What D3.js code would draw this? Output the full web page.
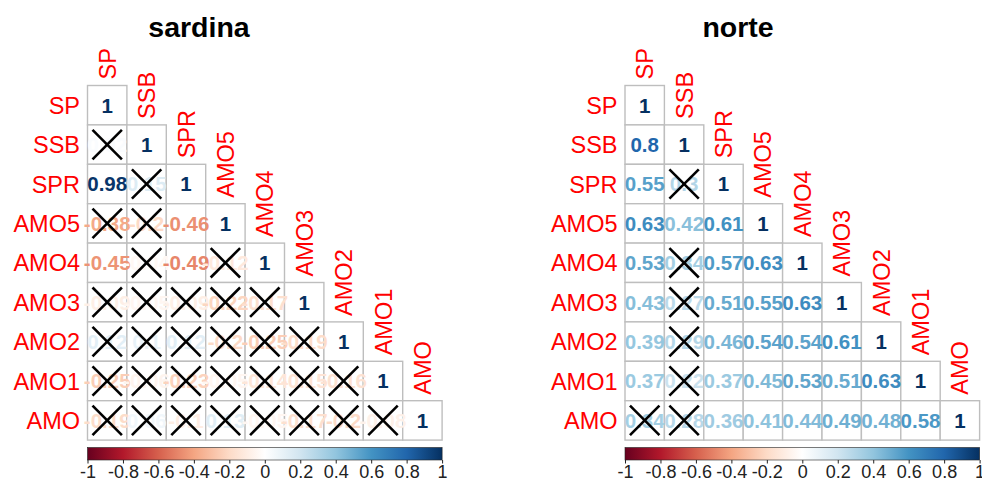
<!DOCTYPE html>
<html>
<head>
<meta charset="utf-8">
<script src="https://cdn.jsdelivr.net/npm/d3@7"></script>
<style>
  body { margin: 0; background: #fff; }
  text { font-family: "Liberation Sans", Arial, sans-serif; }
</style>
</head>
<body>
<div id="container"></div>
<script>
// Variables (rows / columns)
const vars = ['SP', 'SSB', 'SPR', 'AMO5', 'AMO4', 'AMO3', 'AMO2', 'AMO1', 'AMO'];

// Lower triangle correlations, row by row (diagonal included)
const sardinaVals = [
  [1],
  [0.02, 1],
  [0.98, 0.15, 1],
  [-0.38, -0.2, -0.46, 1],
  [-0.45, -0.04, -0.49, -0.12, 1],
  [-0.09, -0.05, -0.09, -0.22, -0.17, 1],
  [0.12, 0.1, 0.12, -0.2, -0.25, -0.19, 1],
  [-0.25, -0.06, -0.23, -0.05, -0.14, -0.15, -0.16, 1],
  [-0.19, 0.06, -0.1, 0.13, -0.05, -0.17, -0.2, -0.08, 1]
];
// 1 = not significant (crossed)
const sardinaX = [
  [0],
  [1, 0],
  [0, 1, 0],
  [1, 1, 0, 0],
  [0, 1, 0, 1, 0],
  [1, 1, 1, 1, 1, 0],
  [1, 1, 1, 1, 1, 1, 0],
  [1, 1, 1, 1, 1, 1, 1, 0],
  [1, 1, 1, 1, 1, 1, 1, 1, 0]
];

const norteVals = [
  [1],
  [0.8, 1],
  [0.55, 0.3, 1],
  [0.63, 0.42, 0.61, 1],
  [0.53, 0.34, 0.57, 0.63, 1],
  [0.43, 0.27, 0.51, 0.55, 0.63, 1],
  [0.39, 0.29, 0.46, 0.54, 0.54, 0.61, 1],
  [0.37, 0.22, 0.37, 0.45, 0.53, 0.51, 0.63, 1],
  [0.34, 0.28, 0.36, 0.41, 0.44, 0.49, 0.48, 0.58, 1]
];
const norteX = [
  [0],
  [0, 0],
  [0, 1, 0],
  [0, 0, 0, 0],
  [0, 1, 0, 0, 0],
  [0, 1, 0, 0, 0, 0],
  [0, 1, 0, 0, 0, 0, 0],
  [0, 1, 0, 0, 0, 0, 0, 0],
  [1, 1, 0, 0, 0, 0, 0, 0, 0]
];

const legendTicks = [-1, -0.8, -0.6, -0.4, -0.2, 0, 0.2, 0.4, 0.6, 0.8, 1];
const rdbu = ['#67001F', '#B2182B', '#D6604D', '#F4A582', '#FDDBC7', '#FFFFFF',
  '#D1E5F0', '#92C5DE', '#4393C3', '#2166AC', '#053061'];

const color = d3.scaleLinear().domain(legendTicks).range(rdbu);

const svg = d3.select('#container').append('svg')
  .attr('width', 982)
  .attr('height', 486);

const defs = svg.append('defs');
const grad = defs.append('linearGradient').attr('id', 'rdbu');
rdbu.forEach((c, i) => {
  grad.append('stop').attr('offset', (i / (rdbu.length - 1) * 100) + '%').attr('stop-color', c);
});

function fmt(v) {
  if (v === 1) return '1';
  return d3.format('.2~f')(v).replace('\u2212', '-');
}

function panel(title, vals, crosses, left, titleX) {
  const top = 85.5;
  const size = 39.4 * vars.length;
  const x = d3.scaleBand().domain(vars).range([left, left + size]);
  const y = d3.scaleBand().domain(vars).range([top, top + size]);
  const bw = x.bandwidth();
  const g = svg.append('g');

  g.append('text')
    .attr('x', titleX).attr('y', 37)
    .attr('text-anchor', 'middle')
    .style('font-size', '28.5px').style('font-weight', 'bold')
    .text(title);

  const cells = [];
  vals.forEach((row, i) => row.forEach((v, j) => {
    cells.push({ r: vars[i], c: vars[j], v: v, x: crosses[i][j] });
  }));

  g.selectAll('rect.cell').data(cells).enter().append('rect')
    .attr('class', 'cell')
    .attr('x', d => x(d.c)).attr('y', d => y(d.r))
    .attr('width', bw).attr('height', bw)
    .attr('fill', 'white').attr('stroke', '#BEBEBE').attr('stroke-width', 1.4);

  g.selectAll('text.num').data(cells).enter().append('text')
    .attr('class', 'num')
    .attr('x', d => x(d.c) + bw / 2).attr('y', d => y(d.r) + bw / 2 + 7.3)
    .attr('text-anchor', 'middle')
    .style('font-size', '20.5px').style('font-weight', 'bold')
    .attr('fill', d => color(d.v))
    .text(d => fmt(d.v));

  const m = 5;
  const xs = g.selectAll('g.cross').data(cells.filter(d => d.x)).enter().append('g')
    .attr('class', 'cross');
  xs.append('line')
    .attr('x1', d => x(d.c) + m).attr('y1', d => y(d.r) + m)
    .attr('x2', d => x(d.c) + bw - m).attr('y2', d => y(d.r) + bw - m);
  xs.append('line')
    .attr('x1', d => x(d.c) + m).attr('y1', d => y(d.r) + bw - m)
    .attr('x2', d => x(d.c) + bw - m).attr('y2', d => y(d.r) + m);
  xs.selectAll('line').attr('stroke', 'black').attr('stroke-width', 2.6);

  // Row labels
  g.selectAll('text.rl').data(vars).enter().append('text')
    .attr('class', 'rl')
    .attr('x', left - 7.5).attr('y', d => y(d) + bw / 2 + 8.5)
    .attr('text-anchor', 'end')
    .attr('fill', 'red').style('font-size', '23.5px')
    .text(d => d);

  // Column labels on the diagonal
  g.selectAll('text.cl').data(vars).enter().append('text')
    .attr('class', 'cl')
    .attr('transform', d => `translate(${x(d) + bw / 2 + 8.5},${y(d) - 6}) rotate(-90)`)
    .attr('text-anchor', 'start')
    .attr('fill', 'red').style('font-size', '23.5px')
    .text(d => d);

  // Colour legend
  const lx = d3.scaleLinear().domain([-1, 1]).range([left, left + size]);
  g.append('rect')
    .attr('x', left).attr('y', 447.5).attr('width', size).attr('height', 12.5)
    .attr('fill', 'url(#rdbu)').attr('stroke', '#222').attr('stroke-width', 0.6);
  const axis = d3.axisBottom(lx).tickValues(legendTicks).tickSize(3.5)
    .tickFormat(d => String(d));
  const ag = g.append('g').attr('transform', 'translate(0,460)').call(axis);
  ag.select('.domain').remove();
  ag.selectAll('text').style('font-size', '18px').attr('fill', '#222')
    .attr('dy', null).attr('y', 18);
  ag.selectAll('line').attr('stroke', '#222');
}

panel('sardina', sardinaVals, sardinaX, 87.5, 199);
panel('norte', norteVals, norteX, 625, 738);
</script>
</body>
</html>
